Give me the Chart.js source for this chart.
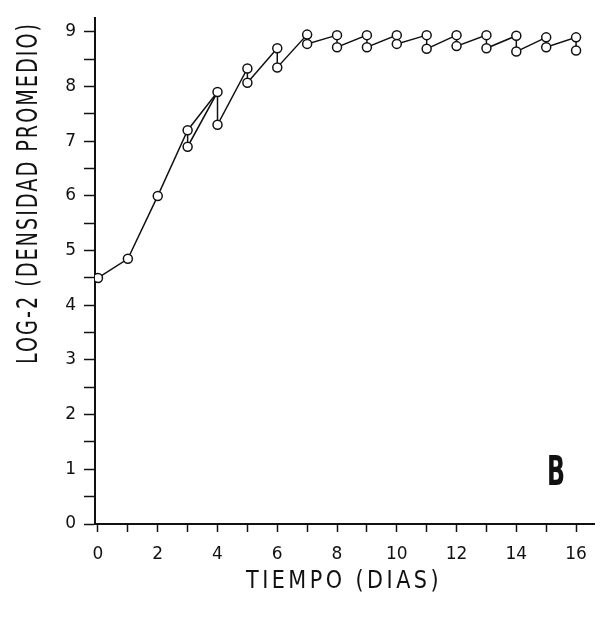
<!DOCTYPE html>
<html>
<head>
<meta charset="utf-8">
<script src="https://cdn.jsdelivr.net/npm/chart.js@4/dist/chart.umd.min.js"></script>
<style>
  html, body { margin: 0; padding: 0; background: #fff; }
  #wrap { width: 600px; height: 621px; }
</style>
</head>
<body>
<div id="wrap"><canvas id="densityChart" width="600" height="621"></canvas></div>
<script>
// Data
const days = [0, 1, 2, 3, 4, 5, 6, 7, 8, 9, 10, 11, 12, 13, 14, 15, 16];
// value before dilution (upper circle) and after dilution (lower circle)
const peakValues = [4.5, 4.85, 6.0, 7.2, 7.9, 8.33, 8.7, 8.95, 8.94, 8.94, 8.94, 8.94, 8.94, 8.94, 8.93, 8.9, 8.9];
const dilutedValues = [null, null, null, 6.9, 7.3, 8.07, 8.35, 8.78, 8.72, 8.72, 8.78, 8.69, 8.74, 8.7, 8.64, 8.72, 8.66];
// second trace drawn between day 3 and day 4 peaks
const extraDays = [3, 4];

const xTicks = [0, 1, 2, 3, 4, 5, 6, 7, 8, 9, 10, 11, 12, 13, 14, 15, 16];
const yTicks = [0, 0.5, 1, 1.5, 2, 2.5, 3, 3.5, 4, 4.5, 5, 5.5, 6, 6.5, 7, 7.5, 8, 8.5, 9];

const xTitle = 'TIEMPO (DIAS)';
const yTitle = 'LOG-2 (DENSIDAD PROMEDIO)';
const panelLetter = 'B';

const INK = '#111';
const FONT = '"DejaVu Sans", sans-serif';

// build the saw-tooth path: peak, then diluted value, then next day's peak
const pathPoints = [];
days.forEach((d, i) => {
  pathPoints.push({ x: d, y: peakValues[i] });
  if (dilutedValues[i] !== null) {
    pathPoints.push({ x: d, y: dilutedValues[i] });
  }
});
const extraPoints = extraDays.map(d => ({ x: d, y: peakValues[days.indexOf(d)] }));

// draw text squeezed to a given length, like the narrow lettering of the scan
function narrowText(ctx, text, cx, cy, length, angle) {
  ctx.save();
  ctx.translate(cx, cy);
  ctx.rotate(angle);
  const w = ctx.measureText(text).width;
  ctx.scale(length / w, 1);
  ctx.fillText(text, 0, 0);
  ctx.restore();
}

// titles and panel letter
const annotate = {
  id: 'annotate',
  afterDraw(chart) {
    const ctx = chart.ctx;
    ctx.save();
    ctx.fillStyle = INK;
    ctx.textAlign = 'center';
    ctx.textBaseline = 'middle';

    ctx.font = '29px ' + FONT;
    ctx.letterSpacing = '3px';
    narrowText(ctx, yTitle, 29, 193, 342, -Math.PI / 2);

    ctx.font = '24px ' + FONT;
    ctx.letterSpacing = '4px';
    narrowText(ctx, xTitle, 344, 582, 196, 0);

    ctx.letterSpacing = '0px';
    ctx.font = 'bold 41px ' + FONT;
    narrowText(ctx, panelLetter, 556, 474, 18, 0);
    ctx.restore();
  }
};

new Chart(document.getElementById('densityChart'), {
  type: 'scatter',
  data: {
    datasets: [
      {
        data: pathPoints,
        showLine: true,
        borderColor: INK,
        borderWidth: 1.5,
        pointRadius: 4.5,
        pointBorderWidth: 1.5,
        pointBorderColor: INK,
        pointBackgroundColor: '#fff',
        tension: 0
      },
      {
        data: extraPoints,
        showLine: true,
        borderColor: INK,
        borderWidth: 1.5,
        pointRadius: 0,
        tension: 0
      }
    ]
  },
  options: {
    responsive: false,
    animation: false,
    layout: { padding: { top: 8, right: 0, left: 0, bottom: 0 } },
    plugins: {
      legend: { display: false },
      tooltip: { enabled: false }
    },
    scales: {
      x: {
        type: 'linear',
        min: -0.1,
        max: 16.6,
        afterFit: scale => { scale.height = 97; },
        afterBuildTicks: scale => { scale.ticks = xTicks.map(v => ({ value: v })); },
        border: { display: true, color: INK, width: 2 },
        grid: { drawOnChartArea: false, color: INK, tickLength: 8, tickWidth: 1.5 },
        ticks: {
          color: INK,
          padding: 12,
          maxRotation: 0,
          autoSkip: false,
          font: { family: FONT, size: 17 },
          callback: v => (v % 2 === 0 ? String(v) : '')
        }
      },
      y: {
        type: 'linear',
        min: 0,
        max: 9.25,
        afterFit: scale => { scale.width = 95; },
        afterBuildTicks: scale => { scale.ticks = yTicks.map(v => ({ value: v })); },
        border: { display: true, color: INK, width: 2 },
        grid: { drawOnChartArea: false, color: INK, tickLength: 11, tickWidth: 1.5 },
        ticks: {
          color: INK,
          padding: 8,
          autoSkip: false,
          font: { family: FONT, size: 17 },
          callback: v => (Number.isInteger(v) ? String(v) : '')
        }
      }
    }
  },
  plugins: [annotate]
});
</script>
</body>
</html>
